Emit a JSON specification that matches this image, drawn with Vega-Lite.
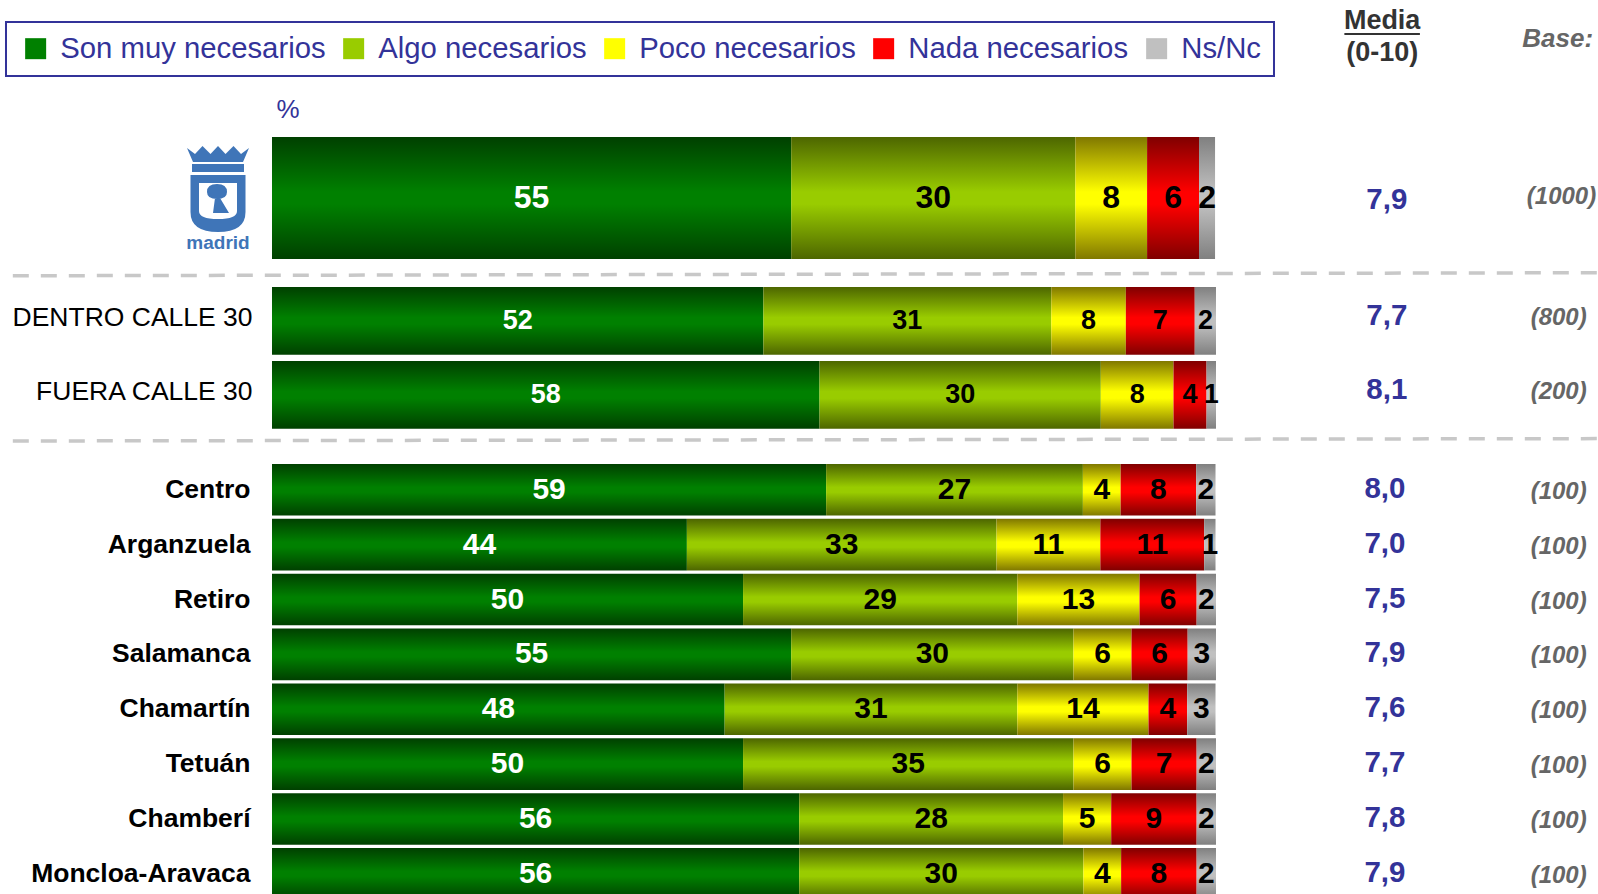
{
"$schema":"https://vega.github.io/schema/vega-lite/v6.json",
"padding":0,
"background":"white",
"autosize":{"type":"pad"},
"config":{"view":{"stroke":null},"font":"Liberation Sans","legend":{"strokeWidth":2}},
"params":[{"name":"grad","expr":"{'Son muy necesarios':{gradient:'linear',x1:0,y1:0,x2:0,y2:1,stops:[{offset:0,color:'#004000'},{offset:0.45,color:'#008000'},{offset:0.55,color:'#008000'},{offset:1,color:'#004000'}]},'Algo necesarios':{gradient:'linear',x1:0,y1:0,x2:0,y2:1,stops:[{offset:0,color:'#4d6600'},{offset:0.45,color:'#99cc00'},{offset:0.55,color:'#99cc00'},{offset:1,color:'#4d6600'}]},'Poco necesarios':{gradient:'linear',x1:0,y1:0,x2:0,y2:1,stops:[{offset:0,color:'#807800'},{offset:0.45,color:'#ffff00'},{offset:0.55,color:'#ffff00'},{offset:1,color:'#807800'}]},'Nada necesarios':{gradient:'linear',x1:0,y1:0,x2:0,y2:1,stops:[{offset:0,color:'#800000'},{offset:0.45,color:'#ff0000'},{offset:0.55,color:'#ff0000'},{offset:1,color:'#800000'}]},'Ns/Nc':{gradient:'linear',x1:0,y1:0,x2:0,y2:1,stops:[{offset:0,color:'#808080'},{offset:0.45,color:'#c0c0c0'},{offset:0.55,color:'#c0c0c0'},{offset:1,color:'#808080'}]}}"}],
"datasets":{
"resumen":[
{"zona":"madrid","fila":"Madrid","media":"7,9","base":"(1000)"},
{"zona":"calle30","fila":"DENTRO CALLE 30","media":"7,7","base":"(800)"},
{"zona":"calle30","fila":"FUERA CALLE 30","media":"8,1","base":"(200)"},
{"zona":"distrito","fila":"Centro","media":"8,0","base":"(100)"},
{"zona":"distrito","fila":"Arganzuela","media":"7,0","base":"(100)"},
{"zona":"distrito","fila":"Retiro","media":"7,5","base":"(100)"},
{"zona":"distrito","fila":"Salamanca","media":"7,9","base":"(100)"},
{"zona":"distrito","fila":"Chamartín","media":"7,6","base":"(100)"},
{"zona":"distrito","fila":"Tetuán","media":"7,7","base":"(100)"},
{"zona":"distrito","fila":"Chamberí","media":"7,8","base":"(100)"},
{"zona":"distrito","fila":"Moncloa-Aravaca","media":"7,9","base":"(100)"}
],
"respuestas":[
{"zona":"madrid","fila":"Madrid","respuesta":"Son muy necesarios","orden":1,"pct":55.0},
{"zona":"madrid","fila":"Madrid","respuesta":"Algo necesarios","orden":2,"pct":30.1},
{"zona":"madrid","fila":"Madrid","respuesta":"Poco necesarios","orden":3,"pct":7.6},
{"zona":"madrid","fila":"Madrid","respuesta":"Nada necesarios","orden":4,"pct":5.5},
{"zona":"madrid","fila":"Madrid","respuesta":"Ns/Nc","orden":5,"pct":1.7},
{"zona":"calle30","fila":"DENTRO CALLE 30","respuesta":"Son muy necesarios","orden":1,"pct":52.05},
{"zona":"calle30","fila":"DENTRO CALLE 30","respuesta":"Algo necesarios","orden":2,"pct":30.5},
{"zona":"calle30","fila":"DENTRO CALLE 30","respuesta":"Poco necesarios","orden":3,"pct":7.9},
{"zona":"calle30","fila":"DENTRO CALLE 30","respuesta":"Nada necesarios","orden":4,"pct":7.3},
{"zona":"calle30","fila":"DENTRO CALLE 30","respuesta":"Ns/Nc","orden":5,"pct":2.25},
{"zona":"calle30","fila":"FUERA CALLE 30","respuesta":"Son muy necesarios","orden":1,"pct":58.0},
{"zona":"calle30","fila":"FUERA CALLE 30","respuesta":"Algo necesarios","orden":2,"pct":29.8},
{"zona":"calle30","fila":"FUERA CALLE 30","respuesta":"Poco necesarios","orden":3,"pct":7.7},
{"zona":"calle30","fila":"FUERA CALLE 30","respuesta":"Nada necesarios","orden":4,"pct":3.5},
{"zona":"calle30","fila":"FUERA CALLE 30","respuesta":"Ns/Nc","orden":5,"pct":1.0},
{"zona":"distrito","fila":"Centro","respuesta":"Son muy necesarios","orden":1,"pct":58.7},
{"zona":"distrito","fila":"Centro","respuesta":"Algo necesarios","orden":2,"pct":27.2},
{"zona":"distrito","fila":"Centro","respuesta":"Poco necesarios","orden":3,"pct":4.0},
{"zona":"distrito","fila":"Centro","respuesta":"Nada necesarios","orden":4,"pct":8.0},
{"zona":"distrito","fila":"Centro","respuesta":"Ns/Nc","orden":5,"pct":2.05},
{"zona":"distrito","fila":"Arganzuela","respuesta":"Son muy necesarios","orden":1,"pct":43.95},
{"zona":"distrito","fila":"Arganzuela","respuesta":"Algo necesarios","orden":2,"pct":32.8},
{"zona":"distrito","fila":"Arganzuela","respuesta":"Poco necesarios","orden":3,"pct":11.0},
{"zona":"distrito","fila":"Arganzuela","respuesta":"Nada necesarios","orden":4,"pct":11.0},
{"zona":"distrito","fila":"Arganzuela","respuesta":"Ns/Nc","orden":5,"pct":1.2},
{"zona":"distrito","fila":"Retiro","respuesta":"Son muy necesarios","orden":1,"pct":49.9},
{"zona":"distrito","fila":"Retiro","respuesta":"Algo necesarios","orden":2,"pct":29.05},
{"zona":"distrito","fila":"Retiro","respuesta":"Poco necesarios","orden":3,"pct":12.95},
{"zona":"distrito","fila":"Retiro","respuesta":"Nada necesarios","orden":4,"pct":6.05},
{"zona":"distrito","fila":"Retiro","respuesta":"Ns/Nc","orden":5,"pct":2.05},
{"zona":"distrito","fila":"Salamanca","respuesta":"Son muy necesarios","orden":1,"pct":55.0},
{"zona":"distrito","fila":"Salamanca","respuesta":"Algo necesarios","orden":2,"pct":29.9},
{"zona":"distrito","fila":"Salamanca","respuesta":"Poco necesarios","orden":3,"pct":6.15},
{"zona":"distrito","fila":"Salamanca","respuesta":"Nada necesarios","orden":4,"pct":5.95},
{"zona":"distrito","fila":"Salamanca","respuesta":"Ns/Nc","orden":5,"pct":3.0},
{"zona":"distrito","fila":"Chamartín","respuesta":"Son muy necesarios","orden":1,"pct":47.95},
{"zona":"distrito","fila":"Chamartín","respuesta":"Algo necesarios","orden":2,"pct":31.0},
{"zona":"distrito","fila":"Chamartín","respuesta":"Poco necesarios","orden":3,"pct":13.9},
{"zona":"distrito","fila":"Chamartín","respuesta":"Nada necesarios","orden":4,"pct":4.1},
{"zona":"distrito","fila":"Chamartín","respuesta":"Ns/Nc","orden":5,"pct":3.0},
{"zona":"distrito","fila":"Tetuán","respuesta":"Son muy necesarios","orden":1,"pct":49.9},
{"zona":"distrito","fila":"Tetuán","respuesta":"Algo necesarios","orden":2,"pct":35.0},
{"zona":"distrito","fila":"Tetuán","respuesta":"Poco necesarios","orden":3,"pct":6.15},
{"zona":"distrito","fila":"Tetuán","respuesta":"Nada necesarios","orden":4,"pct":6.9},
{"zona":"distrito","fila":"Tetuán","respuesta":"Ns/Nc","orden":5,"pct":2.05},
{"zona":"distrito","fila":"Chamberí","respuesta":"Son muy necesarios","orden":1,"pct":55.85},
{"zona":"distrito","fila":"Chamberí","respuesta":"Algo necesarios","orden":2,"pct":27.95},
{"zona":"distrito","fila":"Chamberí","respuesta":"Poco necesarios","orden":3,"pct":5.1},
{"zona":"distrito","fila":"Chamberí","respuesta":"Nada necesarios","orden":4,"pct":9.05},
{"zona":"distrito","fila":"Chamberí","respuesta":"Ns/Nc","orden":5,"pct":2.05},
{"zona":"distrito","fila":"Moncloa-Aravaca","respuesta":"Son muy necesarios","orden":1,"pct":55.85},
{"zona":"distrito","fila":"Moncloa-Aravaca","respuesta":"Algo necesarios","orden":2,"pct":30.1},
{"zona":"distrito","fila":"Moncloa-Aravaca","respuesta":"Poco necesarios","orden":3,"pct":4.0},
{"zona":"distrito","fila":"Moncloa-Aravaca","respuesta":"Nada necesarios","orden":4,"pct":8.0},
{"zona":"distrito","fila":"Moncloa-Aravaca","respuesta":"Ns/Nc","orden":5,"pct":2.05}
]},
"vconcat":[
{"width":1321.6,"height":137,"data":{"values":[{}]},
 "encoding":{"y":{"type":"quantitative","scale":{"domain":[137,0],"nice":false,"zero":false},"axis":null}},
 "layer":[
 {"mark":{"type":"text","fontWeight":"bold","fontSize":27,"fill":"#333333"},"encoding":{"x":{"datum":117.6,"type":"quantitative","scale":{"domain":[0,140],"nice":false,"zero":false},"axis":null},"y":{"datum":21,"type":"quantitative"},"text":{"datum":"Media"}}},
 {"mark":{"type":"rule","stroke":"#333333","strokeWidth":2},"encoding":{"x":{"datum":113.6,"type":"quantitative"},"x2":{"datum":121.6},"y":{"datum":34,"type":"quantitative"}}},
 {"mark":{"type":"text","fontWeight":"bold","fontSize":27,"fill":"#333333"},"encoding":{"x":{"datum":117.6,"type":"quantitative"},"y":{"datum":53,"type":"quantitative"},"text":{"datum":"(0-10)"}}},
 {"mark":{"type":"text","fontWeight":"bold","fontStyle":"italic","fontSize":26,"fill":"#666666"},"encoding":{"x":{"datum":136.2,"type":"quantitative"},"y":{"datum":39,"type":"quantitative"},"text":{"datum":"Base:"}}},
 {"mark":{"type":"text","fontSize":26,"fill":"#333399"},"encoding":{"x":{"datum":1.7,"type":"quantitative"},"y":{"datum":110,"type":"quantitative"},"text":{"datum":"%"}}}
 ]},
{"width":1321.6,"height":122,
 "layer":[
 {"data":{"name":"respuestas"},"transform":[{"filter":"datum.zona==='madrid'"}],
  "mark":{"type":"bar"},
  "encoding":{
   "y":{"field":"fila","type":"nominal","sort":null,"scale":{"paddingInner":0,"paddingOuter":0},"axis":null},
   "x":{"field":"pct","type":"quantitative","stack":"zero","scale":{"domain":[0,140],"nice":false,"zero":false},"axis":null},
   "order":{"field":"orden"},
   "color":{"field":"respuesta","type":"nominal","sort":null,
    "condition":[
     {"test":"datum.respuesta==='Son muy necesarios'","value":{"gradient":"linear","x1":0,"y1":0,"x2":0,"y2":1,"stops":[{"offset":0,"color":"#004000"},{"offset":0.45,"color":"#008000"},{"offset":0.55,"color":"#008000"},{"offset":1,"color":"#004000"}]}},
     {"test":"datum.respuesta==='Algo necesarios'","value":{"gradient":"linear","x1":0,"y1":0,"x2":0,"y2":1,"stops":[{"offset":0,"color":"#4d6600"},{"offset":0.45,"color":"#99cc00"},{"offset":0.55,"color":"#99cc00"},{"offset":1,"color":"#4d6600"}]}},
     {"test":"datum.respuesta==='Poco necesarios'","value":{"gradient":"linear","x1":0,"y1":0,"x2":0,"y2":1,"stops":[{"offset":0,"color":"#807800"},{"offset":0.45,"color":"#ffff00"},{"offset":0.55,"color":"#ffff00"},{"offset":1,"color":"#807800"}]}},
     {"test":"datum.respuesta==='Nada necesarios'","value":{"gradient":"linear","x1":0,"y1":0,"x2":0,"y2":1,"stops":[{"offset":0,"color":"#800000"},{"offset":0.45,"color":"#ff0000"},{"offset":0.55,"color":"#ff0000"},{"offset":1,"color":"#800000"}]}},
     {"test":"datum.respuesta==='Ns/Nc'","value":{"gradient":"linear","x1":0,"y1":0,"x2":0,"y2":1,"stops":[{"offset":0,"color":"#808080"},{"offset":0.45,"color":"#c0c0c0"},{"offset":0.55,"color":"#c0c0c0"},{"offset":1,"color":"#808080"}]}}
    ],
    "scale":{"domain":["Son muy necesarios","Algo necesarios","Poco necesarios","Nada necesarios","Ns/Nc"],"range":["#008000","#99cc00","#ffff00","#ff0000","#c0c0c0"]},
    "legend":{"title":null,"orient":"none","legendX":-266,"legendY":22,"direction":"horizontal","columns":5,"columnPadding":10,"padding":12,"symbolOffset":3,"symbolType":"square","symbolSize":441,"symbolStrokeWidth":0,"labelFont":"Liberation Sans","labelFontSize":29.3,"labelColor":"#333399","labelOffset":10,"labelLimit":400,"strokeColor":"#333399","fillColor":"white","encoding":{"symbols":{"fill":{"value":{"expr":"grad[datum.value]"}},"opacity":{"value":1}}}}
   }}},
 {"data":{"name":"respuestas"},"transform":[{"filter":"datum.zona==='madrid'"}],
  "mark":{"type":"text","fontWeight":"bold","fontSize":32},
  "encoding":{
   "y":{"field":"fila","type":"nominal","sort":null},
   "x":{"field":"pct","type":"quantitative","stack":"zero","bandPosition":0.5},
   "order":{"field":"orden"},"detail":{"field":"respuesta"},
   "text":{"field":"pct","type":"quantitative","format":".0f"},
   "color":{"condition":{"test":"datum.orden===1","value":"white"},"value":"black"}}},
 {"data":{"name":"resumen"},"transform":[{"filter":"datum.zona==='madrid'"}],
  "mark":{"type":"text","fontWeight":"bold","fontSize":29.5,"fill":"#333399","dy":2},
  "encoding":{"y":{"field":"fila","type":"nominal","sort":null},"x":{"datum":118.1,"type":"quantitative"},"text":{"field":"media"}}},
 {"data":{"name":"resumen"},"transform":[{"filter":"datum.zona==='madrid'"}],
  "mark":{"type":"text","fontWeight":"bold","fontStyle":"italic","fontSize":24,"fill":"#666666","dy":-1},
  "encoding":{"y":{"field":"fila","type":"nominal","sort":null},"x":{"datum":136.6,"type":"quantitative"},"text":{"field":"base"}}},
 {"data":{"name":"resumen"},"transform":[{"filter":"datum.zona==='madrid'"}],
  "mark":{"type":"point","filled":true,"opacity":1,"size":10000,"fill":"#3f75b8","strokeWidth":0,
   "shape":"M-.62 -1 L-.46 -.88 L-.31 -1.04 L-.15 -.88 L0 -1.04 L.15 -.88 L.31 -1.04 L.46 -.88 L.62 -1 L.5 -.72 L-.5 -.72 Z M-.52 -.68 L.52 -.68 L.52 -.52 L-.52 -.52 Z M-.55 -.46 L.55 -.46 L.55 .28 Q.55 .68 0 .68 Q-.55 .68 -.55 .28 Z"},
  "encoding":{"y":{"field":"fila","type":"nominal","sort":null},"x":{"datum":-5.72,"type":"quantitative"}}},
 {"data":{"name":"resumen"},"transform":[{"filter":"datum.zona==='madrid'"}],
  "mark":{"type":"point","filled":true,"opacity":1,"size":10000,"fill":"white","strokeWidth":0,
   "shape":"M-.38 -.3 L.38 -.3 L.38 .26 Q.38 .42 0 .42 Q-.38 .42 -.38 .26 Z"},
  "encoding":{"y":{"field":"fila","type":"nominal","sort":null},"x":{"datum":-5.72,"type":"quantitative"}}},
 {"data":{"name":"resumen"},"transform":[{"filter":"datum.zona==='madrid'"}],
  "mark":{"type":"point","filled":true,"opacity":1,"size":10000,"fill":"#3f75b8","strokeWidth":0,
   "shape":"M-.22 -.12 Q-.22 -.28 -.02 -.28 Q.18 -.28 .18 -.12 Q.18 .02 -.02 .02 Q-.22 .02 -.22 -.12 Z M-.06 0 L.04 0 L.22 .3 L-.1 .3 Z"},
  "encoding":{"y":{"field":"fila","type":"nominal","sort":null},"x":{"datum":-5.72,"type":"quantitative"}}},
 {"data":{"name":"resumen"},"transform":[{"filter":"datum.zona==='madrid'"}],
  "mark":{"type":"text","fontWeight":"bold","fontSize":19,"fill":"#3f75b8","dy":45},
  "encoding":{"y":{"field":"fila","type":"nominal","sort":null},"x":{"datum":-5.72,"type":"quantitative"},"text":{"datum":"madrid"}}}
 ]},
{"width":1321.6,"height":28,"data":{"values":[{}]},
 "mark":{"type":"rule","stroke":"#c8c8c8","strokeWidth":3.5,"strokeDash":[16,12],"strokeDashOffset":17.2},
 "encoding":{
  "x":{"datum":-28.6,"type":"quantitative","scale":{"domain":[0,140],"nice":false,"zero":false},"axis":null},
  "x2":{"datum":140.4},
  "y":{"datum":0.6,"type":"quantitative","scale":{"domain":[1,0],"nice":false,"zero":false},"axis":null},
  "y2":{"datum":0.49}}},
{"width":1321.6,"height":141.7,
 "layer":[
 {"data":{"name":"respuestas"},"transform":[{"filter":"datum.zona==='calle30'"}],
  "mark":{"type":"bar"},
  "encoding":{
   "y":{"field":"fila","type":"nominal","sort":null,"scale":{"paddingInner":0.085,"paddingOuter":0},"axis":{"title":null,"domain":false,"ticks":false,"labelPadding":20,"labelFontSize":26.5,"labelColor":"black","labelFont":"Liberation Sans","labelOffset":-3,"labelLimit":300}},
   "x":{"field":"pct","type":"quantitative","stack":"zero","scale":{"domain":[0,140],"nice":false,"zero":false},"axis":null},
   "order":{"field":"orden"},
   "color":{"field":"respuesta","type":"nominal","sort":null,
    "condition":[
     {"test":"datum.respuesta==='Son muy necesarios'","value":{"gradient":"linear","x1":0,"y1":0,"x2":0,"y2":1,"stops":[{"offset":0,"color":"#004000"},{"offset":0.45,"color":"#008000"},{"offset":0.55,"color":"#008000"},{"offset":1,"color":"#004000"}]}},
     {"test":"datum.respuesta==='Algo necesarios'","value":{"gradient":"linear","x1":0,"y1":0,"x2":0,"y2":1,"stops":[{"offset":0,"color":"#4d6600"},{"offset":0.45,"color":"#99cc00"},{"offset":0.55,"color":"#99cc00"},{"offset":1,"color":"#4d6600"}]}},
     {"test":"datum.respuesta==='Poco necesarios'","value":{"gradient":"linear","x1":0,"y1":0,"x2":0,"y2":1,"stops":[{"offset":0,"color":"#807800"},{"offset":0.45,"color":"#ffff00"},{"offset":0.55,"color":"#ffff00"},{"offset":1,"color":"#807800"}]}},
     {"test":"datum.respuesta==='Nada necesarios'","value":{"gradient":"linear","x1":0,"y1":0,"x2":0,"y2":1,"stops":[{"offset":0,"color":"#800000"},{"offset":0.45,"color":"#ff0000"},{"offset":0.55,"color":"#ff0000"},{"offset":1,"color":"#800000"}]}},
     {"test":"datum.respuesta==='Ns/Nc'","value":{"gradient":"linear","x1":0,"y1":0,"x2":0,"y2":1,"stops":[{"offset":0,"color":"#808080"},{"offset":0.45,"color":"#c0c0c0"},{"offset":0.55,"color":"#c0c0c0"},{"offset":1,"color":"#808080"}]}}
    ],
    "scale":{"domain":["Son muy necesarios","Algo necesarios","Poco necesarios","Nada necesarios","Ns/Nc"],"range":["#008000","#99cc00","#ffff00","#ff0000","#c0c0c0"]},
    "legend":{"title":null,"orient":"none","legendX":-266,"legendY":22,"direction":"horizontal","columns":5,"columnPadding":10,"padding":12,"symbolOffset":3,"symbolType":"square","symbolSize":441,"symbolStrokeWidth":0,"labelFont":"Liberation Sans","labelFontSize":29.3,"labelColor":"#333399","labelOffset":10,"labelLimit":400,"strokeColor":"#333399","fillColor":"white","encoding":{"symbols":{"fill":{"value":{"expr":"grad[datum.value]"}},"opacity":{"value":1}}}}
   }}},
 {"data":{"name":"respuestas"},"transform":[{"filter":"datum.zona==='calle30'"}],
  "mark":{"type":"text","fontWeight":"bold","fontSize":27},
  "encoding":{
   "y":{"field":"fila","type":"nominal","sort":null},
   "x":{"field":"pct","type":"quantitative","stack":"zero","bandPosition":0.5},
   "order":{"field":"orden"},"detail":{"field":"respuesta"},
   "text":{"field":"pct","type":"quantitative","format":".0f"},
   "color":{"condition":{"test":"datum.orden===1","value":"white"},"value":"black"}}},
 {"data":{"name":"resumen"},"transform":[{"filter":"datum.zona==='calle30'"}],
  "mark":{"type":"text","fontWeight":"bold","fontSize":29.5,"fill":"#333399","dy":-5},
  "encoding":{"y":{"field":"fila","type":"nominal","sort":null},"x":{"datum":118.1,"type":"quantitative"},"text":{"field":"media"}}},
 {"data":{"name":"resumen"},"transform":[{"filter":"datum.zona==='calle30'"}],
  "mark":{"type":"text","fontWeight":"bold","fontStyle":"italic","fontSize":24,"fill":"#666666","dy":-3},
  "encoding":{"y":{"field":"fila","type":"nominal","sort":null},"x":{"datum":136.3,"type":"quantitative"},"text":{"field":"base"}}}
 ]},
{"width":1321.6,"height":34.3,"data":{"values":[{}]},
 "mark":{"type":"rule","stroke":"#c8c8c8","strokeWidth":3.5,"strokeDash":[16,12],"strokeDashOffset":17.2},
 "encoding":{
  "x":{"datum":-28.6,"type":"quantitative","scale":{"domain":[0,140],"nice":false,"zero":false},"axis":null},
  "x2":{"datum":140.4},
  "y":{"datum":0.35,"type":"quantitative","scale":{"domain":[1,0],"nice":false,"zero":false},"axis":null},
  "y2":{"datum":0.28}}},
{"width":1321.6,"height":431,
 "layer":[
 {"data":{"name":"respuestas"},"transform":[{"filter":"datum.zona==='distrito'"}],
  "mark":{"type":"bar","clip":true},
  "encoding":{
   "y":{"field":"fila","type":"nominal","sort":null,"scale":{"range":[0,435.6],"paddingInner":0.06,"paddingOuter":0},"axis":{"title":null,"domain":false,"ticks":false,"labelPadding":22,"labelFontSize":26.5,"labelFontWeight":"bold","labelColor":"black","labelFont":"Liberation Sans","labelLimit":300}},
   "x":{"field":"pct","type":"quantitative","stack":"zero","scale":{"domain":[0,140],"nice":false,"zero":false},"axis":null},
   "order":{"field":"orden"},
   "color":{"field":"respuesta","type":"nominal","sort":null,
    "condition":[
     {"test":"datum.respuesta==='Son muy necesarios'","value":{"gradient":"linear","x1":0,"y1":0,"x2":0,"y2":1,"stops":[{"offset":0,"color":"#004000"},{"offset":0.45,"color":"#008000"},{"offset":0.55,"color":"#008000"},{"offset":1,"color":"#004000"}]}},
     {"test":"datum.respuesta==='Algo necesarios'","value":{"gradient":"linear","x1":0,"y1":0,"x2":0,"y2":1,"stops":[{"offset":0,"color":"#4d6600"},{"offset":0.45,"color":"#99cc00"},{"offset":0.55,"color":"#99cc00"},{"offset":1,"color":"#4d6600"}]}},
     {"test":"datum.respuesta==='Poco necesarios'","value":{"gradient":"linear","x1":0,"y1":0,"x2":0,"y2":1,"stops":[{"offset":0,"color":"#807800"},{"offset":0.45,"color":"#ffff00"},{"offset":0.55,"color":"#ffff00"},{"offset":1,"color":"#807800"}]}},
     {"test":"datum.respuesta==='Nada necesarios'","value":{"gradient":"linear","x1":0,"y1":0,"x2":0,"y2":1,"stops":[{"offset":0,"color":"#800000"},{"offset":0.45,"color":"#ff0000"},{"offset":0.55,"color":"#ff0000"},{"offset":1,"color":"#800000"}]}},
     {"test":"datum.respuesta==='Ns/Nc'","value":{"gradient":"linear","x1":0,"y1":0,"x2":0,"y2":1,"stops":[{"offset":0,"color":"#808080"},{"offset":0.45,"color":"#c0c0c0"},{"offset":0.55,"color":"#c0c0c0"},{"offset":1,"color":"#808080"}]}}
    ],
    "scale":{"domain":["Son muy necesarios","Algo necesarios","Poco necesarios","Nada necesarios","Ns/Nc"],"range":["#008000","#99cc00","#ffff00","#ff0000","#c0c0c0"]},
    "legend":{"title":null,"orient":"none","legendX":-266,"legendY":22,"direction":"horizontal","columns":5,"columnPadding":10,"padding":12,"symbolOffset":3,"symbolType":"square","symbolSize":441,"symbolStrokeWidth":0,"labelFont":"Liberation Sans","labelFontSize":29.3,"labelColor":"#333399","labelOffset":10,"labelLimit":400,"strokeColor":"#333399","fillColor":"white","encoding":{"symbols":{"fill":{"value":{"expr":"grad[datum.value]"}},"opacity":{"value":1}}}}
   }}},
 {"data":{"name":"respuestas"},"transform":[{"filter":"datum.zona==='distrito'"}],
  "mark":{"type":"text","fontWeight":"bold","fontSize":30},
  "encoding":{
   "y":{"field":"fila","type":"nominal","sort":null},
   "x":{"field":"pct","type":"quantitative","stack":"zero","bandPosition":0.5},
   "order":{"field":"orden"},"detail":{"field":"respuesta"},
   "text":{"field":"pct","type":"quantitative","format":".0f"},
   "color":{"condition":{"test":"datum.orden===1","value":"white"},"value":"black"}}},
 {"data":{"name":"resumen"},"transform":[{"filter":"datum.zona==='distrito'"}],
  "mark":{"type":"text","fontWeight":"bold","fontSize":29.5,"fill":"#333399","dy":-1},
  "encoding":{"y":{"field":"fila","type":"nominal","sort":null},"x":{"datum":117.9,"type":"quantitative"},"text":{"field":"media"}}},
 {"data":{"name":"resumen"},"transform":[{"filter":"datum.zona==='distrito'"}],
  "mark":{"type":"text","fontWeight":"bold","fontStyle":"italic","fontSize":24,"fill":"#666666","dy":2},
  "encoding":{"y":{"field":"fila","type":"nominal","sort":null},"x":{"datum":136.3,"type":"quantitative"},"text":{"field":"base"}}}
 ]}
],
"spacing":0,
"bounds":"flush",
"resolve":{"scale":{"color":"shared","x":"independent","y":"independent"},"legend":{"color":"shared"}}
}
